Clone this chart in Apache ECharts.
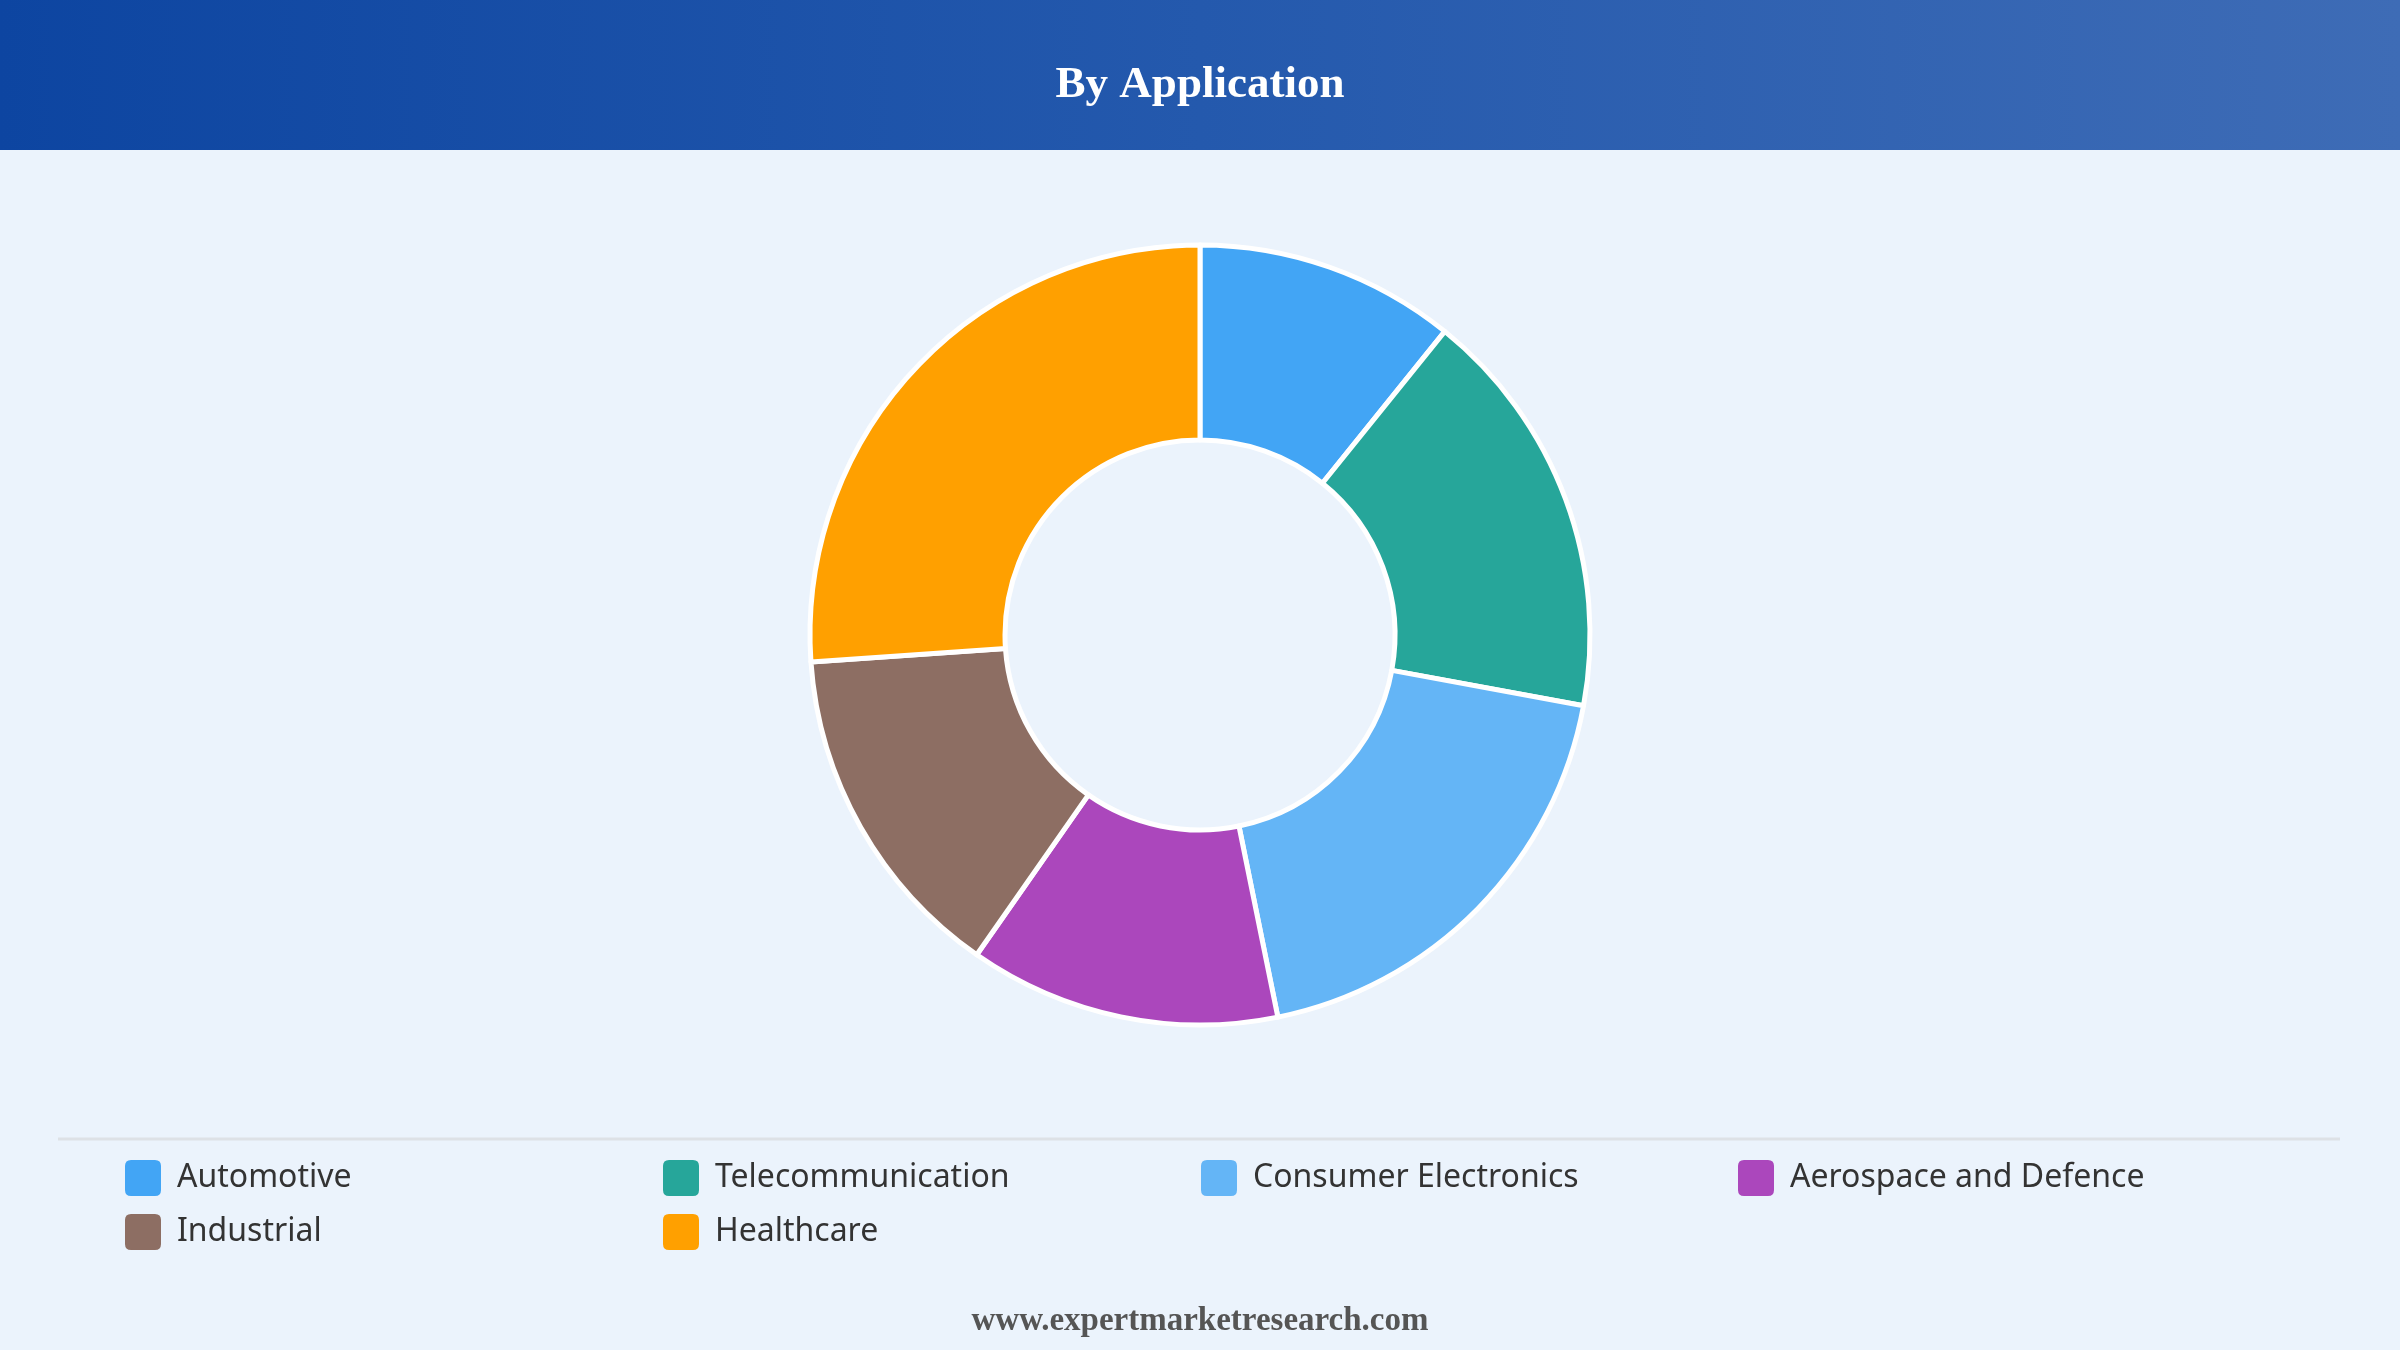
<!DOCTYPE html>
<html>
<head>
<meta charset="utf-8">
<title>By Application</title>
<script src="https://cdn.jsdelivr.net/npm/echarts@6/dist/echarts.min.js"></script>
<style>
  html, body { margin: 0; padding: 0; background: #ebf3fc; }
  #chart { width: 2400px; height: 1350px; }
</style>
</head>
<body>
<div id="chart"></div>
<script>
// share by application (%)
var categories = ["Automotive", "Telecommunication", "Consumer Electronics", "Aerospace and Defence", "Industrial", "Healthcare"];
var shares = [10.8, 17.1, 18.9, 12.9, 14.2, 26.1];
var colors = ["#42a5f5", "#26a69a", "#64b5f6", "#ab47bc", "#8d6e63", "#ffa000"];

// legend columns (two rows, four columns)
var legendCols = [
  ["Automotive", "Industrial"],
  ["Telecommunication", "Healthcare"],
  ["Consumer Electronics"],
  ["Aerospace and Defence"]
];
var colLeft = [120, 658, 1196, 1733];

var chart = echarts.init(document.getElementById("chart"));

var legends = legendCols.map(function (names, i) {
  return {
    orient: "vertical",
    left: colLeft[i],
    top: 1155,
    itemWidth: 36,
    itemHeight: 36,
    itemGap: 18,
    icon: "path://M6,0 L30,0 Q36,0 36,6 L36,30 Q36,36 30,36 L6,36 Q0,36 0,30 L0,6 Q0,0 6,0 Z",
    selectedMode: false,
    data: names,
    itemStyle: { borderWidth: 0 },
    textStyle: {
      fontFamily: "Noto Sans",
      fontSize: 32,
      lineHeight: 36,
      color: "#333333",
      padding: [0, 0, 0, 11]
    }
  };
});

var option = {
  backgroundColor: "#ebf3fc",
  color: colors,
  animation: false,
  title: {
    text: "By Application",
    left: "center",
    top: 52,
    textStyle: {
      fontFamily: "Liberation Serif",
      fontWeight: "bold",
      fontSize: 45,
      lineHeight: 56,
      color: "#ffffff"
    }
  },
  graphic: [
    {
      type: "rect",
      z: -10,
      shape: { x: 0, y: 0, width: 2400, height: 150 },
      style: {
        fill: new echarts.graphic.LinearGradient(0, 0, 1, 0, [
          { offset: 0, color: "#0d45a1" },
          { offset: 0.5, color: "#2459ad" },
          { offset: 1, color: "#3e6cb6" }
        ])
      }
    },
    {
      type: "line",
      shape: { x1: 58, y1: 1139, x2: 2340, y2: 1139 },
      style: { stroke: "#dde1e6", lineWidth: 3 }
    },
    {
      type: "text",
      left: "center",
      top: 1305,
      style: {
        text: "www.expertmarketresearch.com",
        fontFamily: "Liberation Serif",
        fontWeight: "bold",
        fontSize: 33,
        fill: "#555555"
      }
    }
  ],
  legend: legends,
  series: [
    {
      name: "By Application",
      type: "pie",
      center: [1200, 635],
      radius: [195, 390],
      startAngle: 90,
      clockwise: true,
      label: { show: false },
      labelLine: { show: false },
      itemStyle: { borderColor: "#ffffff", borderWidth: 5 },
      emphasis: { scale: false },
      data: categories.map(function (name, i) {
        return { name: name, value: shares[i] };
      })
    }
  ]
};

chart.setOption(option);
window.addEventListener("resize", function () {
  chart.resize();
});
</script>
</body>
</html>
